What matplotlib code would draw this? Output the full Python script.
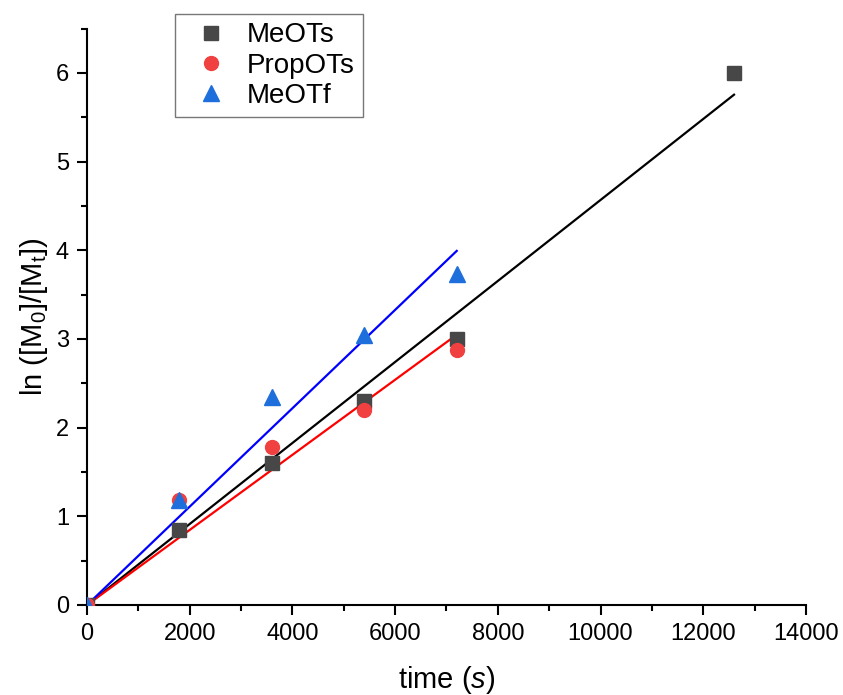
import numpy as np
import matplotlib
matplotlib.use("Agg")
import matplotlib.pyplot as plt
from matplotlib.ticker import MultipleLocator

plt.rcParams['font.family'] = ['Liberation Sans', 'DejaVu Sans']
plt.rcParams['mathtext.fontset'] = 'custom'
plt.rcParams['mathtext.rm'] = 'Liberation Sans'
plt.rcParams['mathtext.it'] = 'Liberation Sans:italic'

# data
t_meots = [0, 1800, 3600, 5400, 7200, 12600]
y_meots = [0, 0.85, 1.60, 2.30, 3.00, 6.00]
t_propots = [0, 1800, 3600, 5400, 7200]
y_propots = [0, 1.18, 1.78, 2.20, 2.88]
t_meotf = [0, 1800, 3600, 5400, 7200]
y_meotf = [0, 1.18, 2.35, 3.05, 3.73]


def fit_origin(x, y):
    # linear fit through the origin
    x = np.asarray(x, float)
    y = np.asarray(y, float)
    k = np.sum(x * y) / np.sum(x * x)
    xs = np.array([0, x.max()])
    return xs, k * xs


fig = plt.figure(figsize=(8.43, 6.95), dpi=100)
ax = fig.add_axes([0.1032, 0.1295, 0.8528, 0.8293])

for (x, y, col) in [(t_meots, y_meots, 'black'),
                    (t_propots, y_propots, '#ff0000'),
                    (t_meotf, y_meotf, '#0000ff')]:
    xs, ys = fit_origin(x, y)
    ax.plot(xs, ys, color=col, lw=1.6, zorder=2)

ax.plot(t_meots, y_meots, 's', color='#474747', ms=9.5, ls='none', label='MeOTs', zorder=3)
ax.plot(t_propots, y_propots, 'o', color='#f04040', ms=10, ls='none', label='PropOTs', zorder=3)
ax.plot(t_meotf, y_meotf, '^', color='#1e6fdc', ms=11, ls='none', label='MeOTf', zorder=3)

ax.set_xlim(0, 14000)
ax.set_ylim(0, 6.5)
ax.xaxis.set_major_locator(MultipleLocator(2000))
ax.xaxis.set_minor_locator(MultipleLocator(1000))
ax.yaxis.set_major_locator(MultipleLocator(1))
ax.yaxis.set_minor_locator(MultipleLocator(0.5))
ax.spines['top'].set_visible(False)
ax.spines['right'].set_visible(False)
for s in ['left', 'bottom']:
    ax.spines[s].set_linewidth(1.5)
ax.tick_params(which='major', direction='out', length=7, width=1.5, labelsize=17, pad=6)
ax.tick_params(which='minor', direction='out', length=4, width=1.5)

ax.set_xlabel(r'time ($\mathit{s}$)', fontsize=21, labelpad=14)
ax.set_ylabel(r'ln ([M$_\mathrm{0}$]/[M$_\mathrm{t}$])', fontsize=21, labelpad=4)

leg = ax.legend(loc='upper left', bbox_to_anchor=(0.1224, 1.0253), borderaxespad=0,
                fontsize=20, frameon=True, fancybox=False, edgecolor='#555555',
                handlelength=2.0, handletextpad=0.3, borderpad=0.3,
                labelspacing=0.15)
leg.get_frame().set_linewidth(1.0)

fig.savefig('out.png', dpi=100)
